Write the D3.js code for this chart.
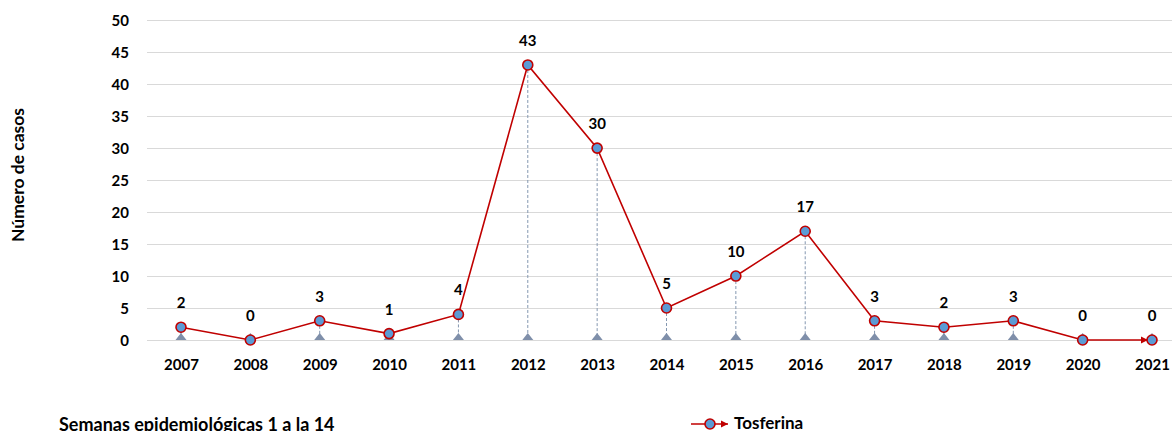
<!DOCTYPE html>
<html><head><meta charset="utf-8">
<script src="https://cdn.jsdelivr.net/npm/d3@7"></script>
<style>body{margin:0;background:#fff}svg{display:block}text{font-family:Lato,"Open Sans",sans-serif;font-weight:bold;fill:#000}</style>
</head><body><svg id="c" width="1172" height="431"></svg>
<script>
const years = ["2007","2008","2009","2010","2011","2012","2013","2014","2015","2016","2017","2018","2019","2020","2021"];
const tosferina = [2,0,3,1,4,43,30,5,10,17,3,2,3,0,0];
const yTicks = [0,5,10,15,20,25,30,35,40,45,50];
const seriesName = "Tosferina";
const yTitle = "Número de casos";
const footNote = "Semanas epidemiológicas 1 a la 14";

const svg = d3.select("#c");
const red = "#C00000", blue = "#5B9BD5", drop = "#8497B0";
const x = d3.scalePoint().domain(years).range([181,1152]);
const y = d3.scaleLinear().domain([0,50]).range([340,20.2]);
const gridL = 147, gridR = 1172;

// gridlines
svg.append("g").selectAll("line").data(yTicks).join("line")
  .attr("x1",gridL).attr("x2",gridR)
  .attr("y1",d=>Math.round(y(d))+0.5).attr("y2",d=>Math.round(y(d))+0.5)
  .attr("stroke","#D9D9D9").attr("stroke-width",1.2);

// y axis labels
const ya = svg.append("g").attr("transform",`translate(129,0)`)
  .call(d3.axisLeft(y).tickValues(yTicks).tickSize(0).tickPadding(0));
ya.select(".domain").remove();
ya.selectAll("text").style("font-size","15px").attr("dy","0.36em").style("font-family","Lato");

// x axis labels
const xa = svg.append("g").attr("transform",`translate(0,340)`)
  .call(d3.axisBottom(x).tickSize(0).tickPadding(0));
xa.select(".domain").remove();
xa.selectAll("text").style("font-size","15px").attr("y",30).attr("dy","0").style("font-family","Lato");

// drop lines
svg.append("g").selectAll("line").data(years.map((yr,i)=>({yr,v:tosferina[i]})).filter(d=>d.v>0)).join("line")
  .attr("x1",d=>x(d.yr)).attr("x2",d=>x(d.yr))
  .attr("y1",d=>y(d.v)).attr("y2",y(0))
  .attr("stroke",drop).attr("stroke-width",1).attr("stroke-dasharray","3,2");

// triangles at zero
svg.append("g").selectAll("path").data(years).join("path")
  .attr("d",d=>{const cx=x(d),b=y(0);return `M${cx-5.5},${b}L${cx},${b-7}L${cx+5.5},${b}Z`;})
  .attr("fill","#7F8FAA");

// arrow marker
const defs = svg.append("defs");
defs.append("marker").attr("id","arr").attr("viewBox","0 0 10 10").attr("refX",10).attr("refY",5)
  .attr("markerWidth",4.5).attr("markerHeight",4.5).attr("orient","auto")
  .append("path").attr("d","M0,0L10,5L0,10Z").attr("fill",red);

// line
const pts = years.map((yr,i)=>[x(yr),y(tosferina[i])]);
const ptsEnd = pts.slice();
ptsEnd[ptsEnd.length-1] = [pts[pts.length-1][0]-4, pts[pts.length-1][1]];
svg.append("path").attr("d",d3.line()(ptsEnd)).attr("fill","none")
  .attr("stroke",red).attr("stroke-width",1.6).attr("marker-end","url(#arr)");

// markers
svg.append("g").selectAll("circle").data(years).join("circle")
  .attr("cx",d=>x(d)).attr("cy",(d,i)=>y(tosferina[i])).attr("r",5)
  .attr("fill",blue).attr("stroke",red).attr("stroke-width",1.6);

// data labels
svg.append("g").selectAll("text").data(years).join("text")
  .attr("x",d=>x(d)).attr("y",(d,i)=>y(tosferina[i])-19)
  .attr("text-anchor","middle").style("font-size","15px").text((d,i)=>tosferina[i]);

// y title
svg.append("text").attr("transform","translate(24,175) rotate(-90)")
  .attr("text-anchor","middle").style("font-size","17.5px").text(yTitle);

// foot note
svg.append("text").attr("x",59).attr("y",431).style("font-size","18px").text(footNote);

// legend
const lg = svg.append("g").attr("transform","translate(691,424)");
lg.append("line").attr("x1",0).attr("x2",37).attr("y1",0).attr("y2",0)
  .attr("stroke",red).attr("stroke-width",1.6).attr("marker-end","url(#arr)");
lg.append("circle").attr("cx",19).attr("cy",0).attr("r",5).attr("fill",blue).attr("stroke",red).attr("stroke-width",1.6);
lg.append("text").attr("x",43).attr("y",5).style("font-size","17px").text(seriesName);
</script></body></html>
